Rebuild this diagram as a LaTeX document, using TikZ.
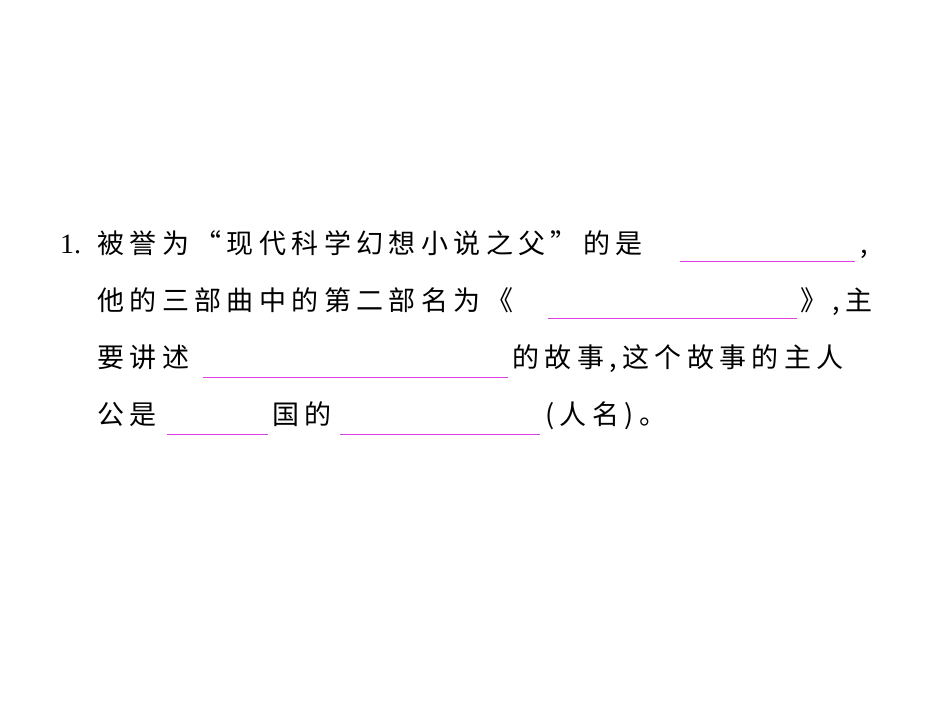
\documentclass[tikz,border=0pt]{standalone}
\usepackage{fontspec}
\newfontfamily\cjk[LetterSpace=20]{Noto Sans CJK SC}
\newfontfamily\num{Liberation Serif}
\definecolor{ul}{HTML}{E040E0}
\tikzset{txt/.style={anchor=base west,inner sep=0pt,font=\cjk\fontsize{27}{27}\selectfont},
blank/.style={draw=ul,line width=0.8pt}}
\begin{document}
\begin{tikzpicture}[x=1pt,y=-1pt]
\useasboundingbox (0,0) rectangle (950,713);
\node[txt,font=\num\fontsize{28}{28}\selectfont] (n1) at (60,253) {1.};
\node[txt] (l1) at (97,253) {被誉为“现代科学幻想小说之父”的是};
\coordinate (a1) at (680,261); \coordinate (b1) at (855,261);
\draw[blank] (a1) -- (b1);
\node[txt] (c1) at (860,253) {,};
\node[txt] (l2) at (97,310) {他的三部曲中的第二部名为《};
\coordinate (a2) at (548,318); \coordinate (b2) at (797,318);
\draw[blank] (a2) -- (b2);
\node[txt] (r2) at (800,310) {》,主};
\node[txt] (l3) at (97,367) {要讲述};
\coordinate (a3) at (203,377); \coordinate (b3) at (508,377);
\draw[blank] (a3) -- (b3);
\node[txt] (r3) at (512,367) {的故事,这个故事的主人};
\node[txt] (l4) at (97,424) {公是};
\coordinate (a4) at (167,434); \coordinate (b4) at (268,434);
\draw[blank] (a4) -- (b4);
\node[txt] (m4) at (272,424) {国的};
\coordinate (c4) at (340,434); \coordinate (d4) at (540,434);
\draw[blank] (c4) -- (d4);
\node[txt] (r4) at (545,424) {(人名)。};
\end{tikzpicture}
\end{document}
